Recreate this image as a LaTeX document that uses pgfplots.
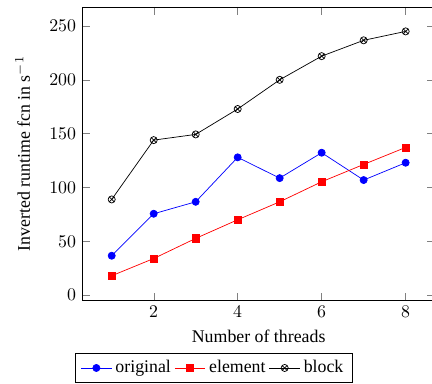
\documentclass[border=0pt]{standalone}
\usepackage{fontspec}
\setmainfont{Liberation Serif}
\usepackage{pgfplots}
\pgfplotsset{compat=1.18}
\begin{document}
\begin{tikzpicture}
\begin{axis}[
  name=ax,
  scale only axis,
  width=198pt, height=164.6pt,
  xmin=0.3, xmax=8.7, ymin=-4.7, ymax=267.7,
  xtick={2,4,6,8},
  ytick={0,50,100,150,200,250},
  xlabel={Number of threads},
  ylabel={Inverted runtime fcn in s$^{-1}$},
  ylabel shift=4pt,
  legend columns=-1,
  legend style={at={(0.373,-0.18)}, anchor=north, /tikz/every even column/.append style={column sep=0pt}},
]
\addplot[blue, mark=*] coordinates {(1,36.6) (2,75.6) (3,86.7) (4,128) (5,108.7) (6,132.3) (7,106.9) (8,123)};
\addlegendentry{original}
\addplot[red, mark=square*] coordinates {(1,18) (2,34) (3,52.7) (4,70) (5,86.7) (6,105.3) (7,121.4) (8,137.2)};
\addlegendentry{element}
\addplot[black, mark=otimes] coordinates {(1,88.9) (2,144) (3,149.3) (4,172.9) (5,200) (6,222) (7,236.7) (8,245)};
\addlegendentry{block}
\end{axis}
\pgfresetboundingbox
\path[use as bounding box] ([xshift=-46.2pt,yshift=-46.6pt]ax.south west) rectangle ([xshift=-1.7pt,yshift=3.9pt]ax.north east);
\end{tikzpicture}
\end{document}
